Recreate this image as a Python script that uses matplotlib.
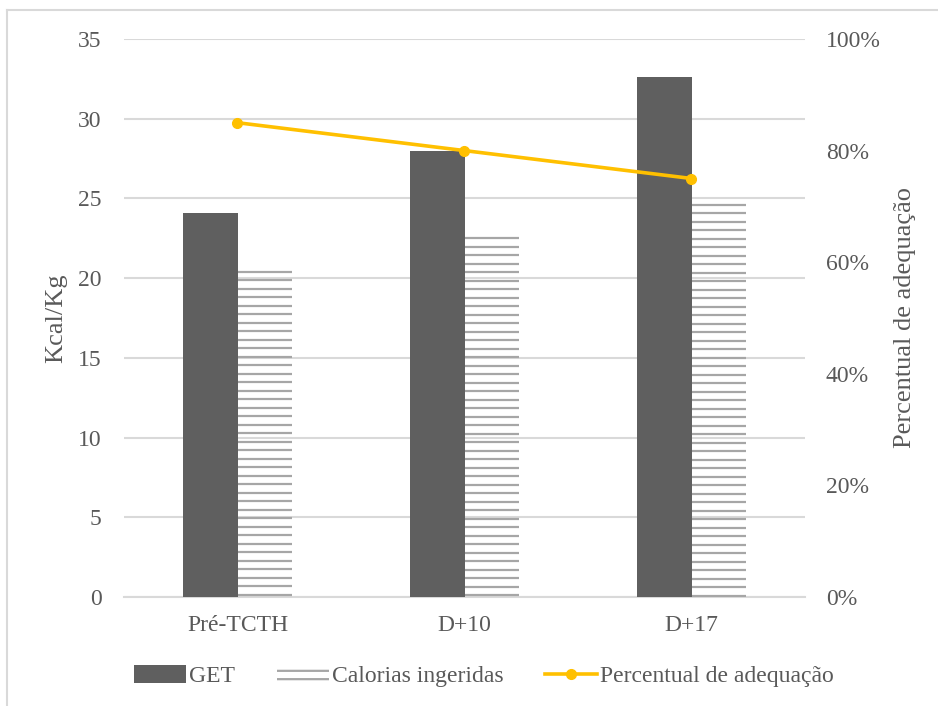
import matplotlib
matplotlib.use("Agg")
import matplotlib.pyplot as plt
from matplotlib.lines import Line2D
from matplotlib.patches import Patch
import numpy as np

plt.rcParams["font.family"] = ["Liberation Serif", "DejaVu Serif"]
plt.rcParams["hatch.linewidth"] = 1.6

categories = ["Pré-TCTH", "D+10", "D+17"]
get_kcal = [24.1, 28.0, 32.6]
calorias_ingeridas = [20.4, 22.5, 24.6]
percentual = [0.85, 0.80, 0.75]

text_color = "#595959"
grid_color = "#d9d9d9"
bar_dark = "#5f5f5f"
hatch_gray = "#a6a6a6"
line_color = "#ffc000"
fs = 17
label_fs = 19

fig = plt.figure(figsize=(9.38, 7.06), dpi=100)
ax = fig.add_axes([124 / 938, 1 - 597 / 706, (805 - 124) / 938, (597 - 39) / 706])
ax2 = ax.twinx()

x = np.arange(len(categories))
w = 0.238
ax.bar(x - w / 2, get_kcal, width=w, color=bar_dark, linewidth=0, zorder=3)

# striped bars: horizontal rules stepping down from each bar's top
step = 0.533
for xi, v in zip(x, calorias_ingeridas):
    ys = np.arange(v, 0, -step)
    ax.hlines(ys, xi, xi + w, color=hatch_gray, linewidth=1.6, zorder=3)

ax.set_xlim(-0.5, len(categories) - 0.5)
ax.set_ylim(0, 35)
ax.set_yticks(range(0, 36, 5))
ax.yaxis.grid(True, color=grid_color, linewidth=1.5, zorder=0)
ax.set_axisbelow(True)
for s in ["top", "right", "left"]:
    ax.spines[s].set_visible(False)
ax.spines["bottom"].set_color(grid_color)
ax.spines["bottom"].set_linewidth(1.5)
ax.set_xticks(x)
ax.set_xticklabels(categories)
ax.tick_params(axis="both", length=0, labelsize=fs, colors=text_color)
ax.tick_params(axis="x", pad=13)
ax.tick_params(axis="y", pad=16)
ax.set_ylabel("Kcal/Kg", fontsize=label_fs, color=text_color)
ax.yaxis.set_label_coords(-0.084, 0.5)

ax2.plot(x, percentual, color=line_color, linewidth=2.6, marker="o",
         markersize=7, zorder=5)
ax2.set_ylim(0, 1)
ax2.set_yticks(np.arange(0, 1.01, 0.2))
ax2.set_yticklabels([f"{int(round(v * 100))}%" for v in np.arange(0, 1.01, 0.2)])
for s in ax2.spines.values():
    s.set_visible(False)
ax2.tick_params(axis="y", length=0, labelsize=fs, colors=text_color, pad=15)
ax2.set_ylabel("Percentual de adequação", fontsize=label_fs, color=text_color)
ax2.yaxis.set_label_coords(1.131, 0.5)

handles = [
    Patch(facecolor=bar_dark, edgecolor="none"),
    Patch(facecolor="white", edgecolor=hatch_gray, hatch="--", linewidth=0),
    Line2D([], [], color=line_color, linewidth=2.6, marker="o", markersize=7),
]
labels = ["GET", "Calorias ingeridas", "Percentual de adequação"]
fig.legend(handles, labels, loc="center", bbox_to_anchor=(484 / 938, 1 - 676 / 706),
           ncol=3, frameon=False, fontsize=fs, labelcolor=text_color,
           handlelength=2.2, handleheight=0.8, handletextpad=0.15,
           columnspacing=1.75)

# light outer frame, left and top edges only
fig.add_artist(Line2D([7 / 938, 7 / 938], [0, 1 - 10 / 706], color=grid_color,
                      linewidth=1.5, transform=fig.transFigure))
fig.add_artist(Line2D([7 / 938, 1], [1 - 10 / 706, 1 - 10 / 706], color=grid_color,
                      linewidth=1.5, transform=fig.transFigure))

fig.savefig("out.png", dpi=100)
